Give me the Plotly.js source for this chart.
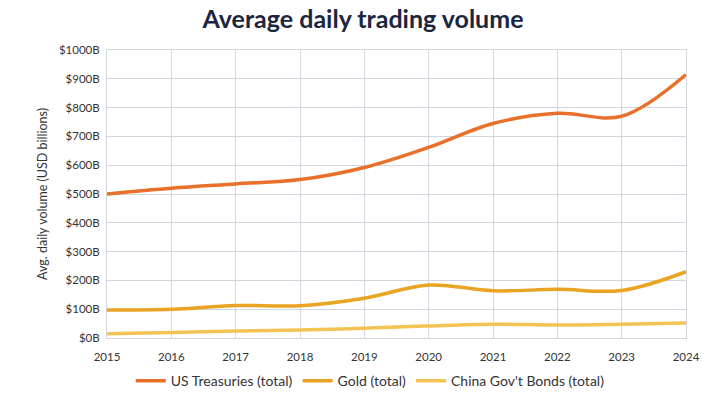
<!DOCTYPE html>
<html>
<head>
<meta charset="utf-8">
<script src="https://cdn.plot.ly/plotly-3.0.1.min.js"></script>
<style>html,body{margin:0;padding:0;background:#fff;}#chart{width:726px;height:393px;}</style>
</head>
<body>
<div id="chart"></div>
<script>
const years = [2015, 2016, 2017, 2018, 2019, 2020, 2021, 2022, 2023, 2024];
const usTreasuries = [500, 520, 535, 550, 592, 662, 745, 780, 770, 915];
const gold = [97, 100, 113, 112, 138, 184, 164, 169, 165, 230];
const chinaBonds = [15, 19, 24, 28, 34, 42, 48, 45, 48, 52];
const seriesNames = ["US Treasuries (total)", "Gold (total)", "China Gov't Bonds (total)"];
const yTickVals = [0, 100, 200, 300, 400, 500, 600, 700, 800, 900, 1000];
const yTickText = yTickVals.map(v => "$" + v + "B");

const colors = ["#E8702A", "#E9A423", "#F3C453"];
const data = [usTreasuries, gold, chinaBonds].map((vals, i) => ({
  x: years, y: vals, name: seriesNames[i], type: "scatter", mode: "lines",
  line: {color: colors[i], width: 3.5, shape: "spline", smoothing: 1},
  hoverinfo: "x+y"
}));

const layout = {
  width: 726, height: 393,
  margin: {l: 107, r: 40, t: 50, b: 55, autoexpand: false},
  paper_bgcolor: "#fff", plot_bgcolor: "#fff",
  font: {family: "Lato, 'Open Sans', sans-serif", color: "#333", size: 11.5},
  title: {text: "<b>Average daily trading volume</b>", x: 0.5, xanchor: "center", yref: "container", y: 0.95, yanchor: "middle",
          font: {size: 25, color: "#1d2640", family: "Lato, 'Open Sans', sans-serif"}},
  xaxis: {range: [2015, 2024], tickvals: years, ticktext: years.map(String), showgrid: true,
          gridcolor: "#d3d6dd", gridwidth: 1, zeroline: false, showline: true, linecolor: "#d3d6dd",
          mirror: true, ticks: "outside", ticklen: 8, tickcolor: "rgba(0,0,0,0)", tickfont: {size: 11.5, color: "#333"}},
  yaxis: {range: [0, 1000], tickvals: yTickVals, ticktext: yTickText, showgrid: true,
          gridcolor: "#d3d6dd", gridwidth: 1, zeroline: false, showline: true, linecolor: "#d3d6dd",
          mirror: true, ticks: "outside", ticklen: 4, tickcolor: "rgba(0,0,0,0)", tickfont: {size: 11.5, color: "#333"},
          title: {text: "Avg. daily volume (USD billions)", font: {size: 12.5, color: "#333"}, standoff: 8}},
  legend: {orientation: "h", x: 0.51, xref: "container", xanchor: "center", yref: "container", y: 0.03, yanchor: "middle",
           font: {size: 14, color: "#333"}},
  showlegend: true
};
Plotly.newPlot("chart", data, layout, {displayModeBar: false, staticPlot: true});
</script>
</body>
</html>
